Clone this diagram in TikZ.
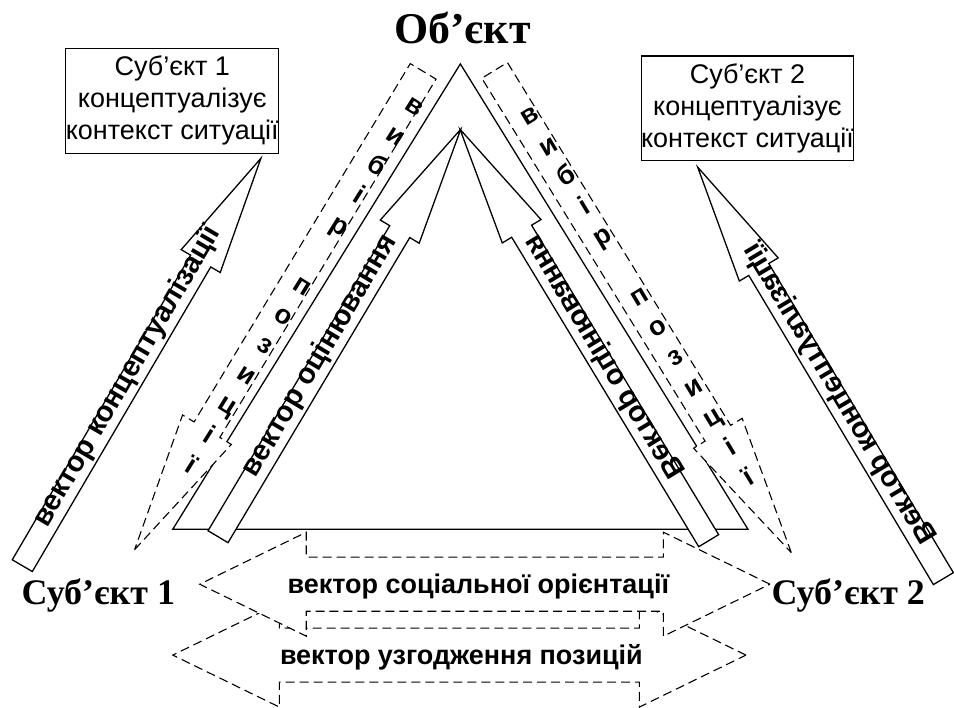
\documentclass[tikz,border=0pt]{standalone}
\usepackage{fontspec}
\usepackage{graphicx}
\setmainfont{Liberation Sans}
\newfontfamily\headfont{Liberation Serif}
\usetikzlibrary{shapes.arrows}

\begin{document}
\begin{tikzpicture}[
    x=1pt, y=-1pt,
    vec/.style={single arrow, draw, fill=white, line width=1.3pt, inner xsep=0pt, inner ysep=11pt,
        single arrow head extend=11pt, single arrow tip angle=21.5, anchor=tail},
    choice/.style={single arrow, draw, fill=white, line width=1.1pt, dash pattern=on 9pt off 5pt,
        inner xsep=0pt, inner ysep=14.5pt, single arrow head extend=13.5pt, single arrow tip angle=23, anchor=tail},
    both/.style={double arrow, draw, fill=white, line width=1.1pt, dash pattern=on 9pt off 5pt,
        inner xsep=0pt, inner ysep=26.5pt, double arrow head extend=25pt, double arrow tip angle=52},
    sbox/.style={draw, line width=1.2pt, minimum width=209pt, minimum height=105pt, inner sep=0pt,
        align=center, font=\fontsize{27}{32}\selectfont},
    vlabel/.style={anchor=mid, inner sep=0pt, font=\bfseries\fontsize{29}{30}\selectfont},
    letters/.style={align=center, inner sep=0pt, font=\bfseries\fontsize{27}{35.3}\selectfont},
    hlabel/.style={inner sep=0pt, font=\bfseries\fontsize{27}{30}\selectfont},
    actor/.style={anchor=base, inner sep=0pt, font=\headfont\bfseries\fontsize{36}{38}\selectfont}
]
    \fill[white] (0,0) rectangle (954,706);

    % triangle object - subjects
    \coordinate (obj) at (461,64);
    \coordinate (s1) at (173,530);
    \coordinate (s2) at (749,530);
    \draw[line width=1.3pt] (obj) -- (s2) -- (s1) -- cycle;

    % choice of position (dashed)
    \node[choice, rotate=238.9, minimum height=559.4pt] (ch1) at (424,71) {};
    \node[choice, rotate=-58.4, minimum height=567pt] (ch2) at (495,70) {};
    \node[letters, rotate=-32] (chtext1) at (302.5,287) {в\\и\\б\\і\\р\\[35.3pt]п\\о\\з\\и\\ц\\і\\ї};
    \node[letters, rotate=31.1] (chtext2) at (640.5,298) {в\\и\\б\\і\\р\\[35.3pt]п\\о\\з\\и\\ц\\і\\ї};

    % evaluation vectors
    \node[vec, rotate=59.22, minimum height=474.9pt] (ev1) at (218,538) {};
    \node[vec, rotate=121.15, minimum height=481.4pt] (ev2) at (710,542) {};
    \path (ev1.tail) -- node[pos=.436, sloped, vlabel] (evtext1) {вектор оцінювання} (ev1.tip);
    \path (ev2.tail) -- node[pos=.437, sloped, vlabel] (evtext2) {\reflectbox{Вектор оцінювання}} (ev2.tip);

    % conceptualisation vectors
    \node[vec, rotate=59.64, minimum height=472.8pt] (con1) at (22,567) {};
    \node[vec, rotate=120.84, minimum height=479.9pt] (con2) at (945,580) {};
    \path (con1.tail) -- node[pos=.455, sloped, vlabel] (context1) {вектор концептуалізації} (con1.tip);
    \path (con2.tail) -- node[pos=.44, sloped, vlabel] (context2) {\reflectbox{Вектор концептуалізації}} (con2.tip);

    \node[sbox] (box1) at (172.5,101) {Суб’єкт 1\\концептуалізує\\контекст ситуації};
    \node[sbox] (box2) at (748.5,108.5) {Суб’єкт 2\\концептуалізує\\контекст ситуації};

    % horizontal vectors
    \node[both, minimum height=574pt] (agree) at (460,656) {};
    \node[both, minimum height=571pt] (social) at (485.5,585) {};
    \node[hlabel] (socialtext) at (479,587) {вектор соціальної орієнтації};
    \node[hlabel] (agreetext) at (462,658) {вектор узгодження позицій};

    \node[actor, font=\headfont\bfseries\fontsize{44}{46}\selectfont] (objtext) at (463,44) {Об’єкт};
    \node[actor] (sub1) at (98.5,605) {Суб’єкт 1};
    \node[actor] (sub2) at (849.5,605) {Суб’єкт 2};
\end{tikzpicture}
\end{document}
